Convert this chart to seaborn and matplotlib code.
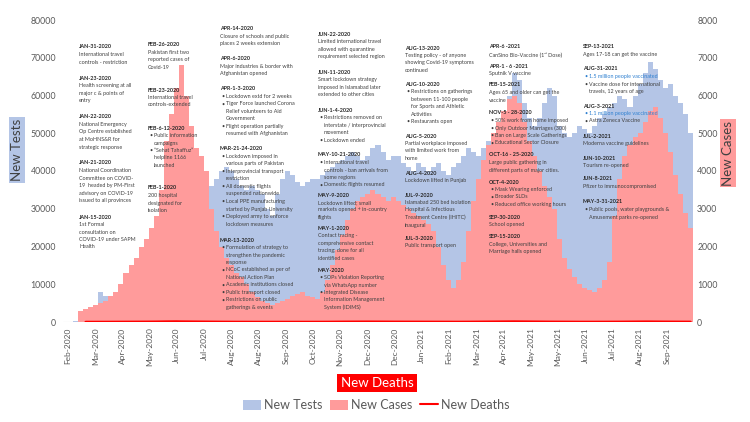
import matplotlib
matplotlib.use("Agg")
import numpy as np
import pandas as pd
import seaborn as sns
import matplotlib.pyplot as plt
from matplotlib.patches import Patch
from matplotlib.lines import Line2D

# ---------------- data (5-day bins) ----------------
new_tests = [
    0, 0, 200, 500, 1000, 3000, 4000, 8000, 7000, 6500,
    8000, 9000, 11000, 12000, 13000, 14000, 15000, 17000, 20000, 22000,
    25000, 27000, 28000, 29000, 28000, 27000, 26000, 30000, 33000, 36000,
    38000, 40000, 41000, 40000, 38000, 36000, 35000, 36000, 35000, 34000,
    30000, 28000, 34000, 38000, 40000, 39000, 37000, 36000, 37000, 38000,
    38000, 39000, 40000, 41000, 42000, 43000, 44000, 45000, 44000, 43000,
    44000, 46000, 47000, 45000, 43000, 44000, 44000, 42000, 41000, 40000,
    42000, 41000, 40000, 41000, 42000, 40000, 39000, 41000, 42000, 44000,
    46000, 45000, 44000, 46000, 48000, 50000, 53000, 56000, 60000, 66000,
    64000, 58000, 54000, 52000, 54000, 58000, 62000, 60000, 52000, 50000,
    49000, 50000, 52000, 51000, 50000, 52000, 54000, 55000, 57000, 58000,
    60000, 59000, 57000, 60000, 63000, 66000, 69000, 67000, 64000, 62000,
    63000, 60000, 58000, 55000, 50000,
]
new_cases = [
    0, 0, 0, 300, 350, 400, 450, 500, 550, 700,
    800, 1000, 1300, 1500, 1700, 2000, 2200, 2500, 2800, 3500,
    4800, 5500, 6200, 6800, 6000, 5200, 4600, 4400, 4000, 3000,
    2400, 2000, 1700, 1500, 1300, 1200, 1000, 800, 650, 550,
    500, 450, 500, 550, 600, 700, 750, 800, 700, 650,
    600, 800, 1100, 1500, 1900, 2300, 2700, 3000, 3200, 3300,
    3400, 3500, 3400, 3300, 3200, 3300, 3200, 3100, 3000, 2900,
    2800, 2700, 2600, 2400, 2000, 1500, 1100, 900, 1100, 1600,
    2400, 3200, 3800, 4300, 4700, 5000, 5300, 5600, 5900, 6000,
    5800, 5300, 4800, 4400, 4000, 3600, 3300, 3000, 2200, 1700,
    1400, 1200, 1000, 900, 850, 800, 900, 1100, 1600, 2800,
    3800, 4400, 4700, 4900, 5000, 5300, 5600, 5700, 5400, 5000,
    4500, 3900, 3400, 2900, 2500,
]
new_deaths = [
    np.nan, np.nan, np.nan, np.nan, 2, 3, 5, 8, 10, 15,
    20, 25, 30, 35, 40, 45, 50, 60, 70, 90,
    110, 120, 130, 110, 100, 90, 80, 70, 60, 50,
    40, 30, 25, 20, 15, 12, 10, 8, 7, 6,
    6, 6, 6, 7, 8, 8, 8, 9, 10, 10,
    12, 15, 20, 30, 40, 50, 55, 60, 65, 70,
    75, 70, 65, 60, 55, 50, 50, 45, 45, 40,
    40, 35, 35, 30, 30, 25, 25, 20, 20, 25,
    30, 40, 50, 60, 70, 80, 90, 100, 110, 120,
    110, 100, 90, 80, 70, 60, 50, 45, 40, 35,
    30, 25, 20, 20, 20, 20, 25, 25, 30, 35,
    40, 50, 60, 70, 80, 90, 90, 80, 70, 60,
    55, 50, 45, 40, 35,
]
month_labels = ['Feb-2020', 'Mar-2020', 'Apr-2020', 'May-2020', 'Jun-2020',
                'Jul-2020', 'Aug-2020', 'Aug-2020', 'Sep-2020', 'Oct-2020',
                'Nov-2020', 'Dec-2020', 'Dec-2020', 'Jan-2021', 'Feb-2021',
                'Mar-2021', 'Apr-2021', 'May-2021', 'May-2021', 'Jun-2021',
                'Jul-2021', 'Aug-2021', 'Sep-2021']
test_ticks = list(range(0, 80001, 10000))
case_ticks = list(range(0, 8001, 1000))

# annotation blocks: (x px, y px, heading, lines)  "* " bullet, "*b" blue bullet, "  " continuation
events = [
    (79, 47, "JAN-31-2020", ["International travel", "controls - restriction"]),
    (79, 78, "JAN-23-2020", ["Health screening at all", "major c & points of", "entry"]),
    (79, 117, "JAN-22-2020", ["National Emergency", "Op Centre established", "at MoHNS&R for", "strategic response"]),
    (79, 163, "JAN-21-2020", ["National Coordination", "Committee on COVID-", "19  headed by PM-First", "advisory on COVID-19", "issued to all provinces"]),
    (79, 217, "JAN-15-2020", ["1st Formal", "consultation on", "COVID-19 under SAPM", "Health"]),
    (148, 45, "FEB-26-2020", ["Pakistan first two", "reported cases of", "Covid-19"]),
    (148, 90, "FEB-23-2020", ["International travel", "controls-extended"]),
    (148, 128, "FEB-6-12-2020", ["* Public information", "  campaigns", "* \u201cSehat Tahaffuz\u201d", "  helpline 1166", "  launched"]),
    (148, 188, "FEB-1-2020", ["200 hospital", "designated for", "isolation"]),
    (220, 29, "APR-14-2020", ["Closure of schools and public", "places 2 weeks extension"]),
    (220, 59, "APR-6-2020", ["Major industries & border with", "Afghanistan opened"]),
    (220, 89, "APR-1-3-2020", ["* Lockdown extd for 2 weeks", "* Tiger Force launched Corona", "  Relief volunteers to Aid", "  Government", "* Flight operation partially", "  resumed with Afghanistan"]),
    (220, 149, "MAR-21-24-2020", ["* Lockdown imposed in", "  various parts of Pakistan", "* Interprovincial transport", "  restriction", "* All domestic flights", "  suspended nationwide", "* Local PPE manufacturing", "  started by Punjab University", "* Deployed army to enforce", "  lockdown measures"]),
    (220, 240, "MAR-13-2020", ["* Formulation of strategy to", "  strengthen the pandemic", "  response", "* NCoC established as per of", "  National Action Plan", "* Academic institutions closed", "* Public transport closed", "* Restrictions on public", "  gatherings & events"]),
    (318, 34, "JUN-22-2020", ["Limited international travel", "allowed with quarantine", "requirement selected region"]),
    (318, 72, "JUN-11-2020", ["Smart lockdown strategy", "imposed in Islamabad later", "extended to other cities"]),
    (318, 110, "JUN-1-4-2020", ["* Restrictions removed on", "  interstate / interprovincial", "  movement", "* Lockdown ended"]),
    (318, 155, "MAY-10-21-2020", ["* International travel", "  controls - ban arrivals from", "  some regions", "* Domestic flights resumed"]),
    (318, 195, "MAY-9-2020", ["Lockdown lifted; small", "markets opened + in-country", "flights"]),
    (318, 228, "MAY-1-2020", ["Contact tracing -", "comprehensive contact", "tracing; done for all", "identified cases"]),
    (318, 270, "MAY-2020", ["* SOPs Violation Reporting", "  via WhatsApp number", "* Integrated Disease", "  Information Management", "  System (IDIMS)"]),
    (405, 48, "AUG-13-2020", ["Testing policy - of anyone", "showing Covid-19 symptoms", "continued"]),
    (405, 84, "AUG-10-2020", ["* Restrictions on gatherings", "  between 11-100 people", "  for Sports and Athletic", "  Activities", "* Restaurants open"]),
    (405, 136, "AUG-5-2020", ["Partial workplace imposed", "with limited work from", "home"]),
    (405, 173, "AUG-4-2020", ["Lockdown lifted in Punjab"]),
    (405, 195, "JUL-9-2020", ["Islamabad 250 bed isolation", "Hospital & Infectious", "Treatment Centre (IHITC)", "inaugural"]),
    (405, 238, "JUL-3-2020", ["Public transport open"]),
    (489, 47, "APR-6 -2021", ["CanSino Bio-Vaccine (1\u02e2\u1d57 Dose)"]),
    (489, 66, "APR-1 - 6 -2021", ["Sputnik V vaccine"]),
    (489, 85, "FEB-15-2021", ["Ages 65 and older can get the", "vaccine"]),
    (489, 113, "NOV-5 - 28-2020", ["* 50% work from home imposed", "* Only Outdoor Marriages (300)", "* Ban on Large Scale Gatherings", "* Educational Sector Closure"]),
    (489, 155, "OCT-16 - 25-2020", ["Large public gathering in", "different parts of major cities."]),
    (489, 182, "OCT-4-2020", ["* Mask Wearing enforced", "* Broader SLDs", "* Reduced office working hours"]),
    (489, 217, "SEP-30-2020", ["School opened"]),
    (489, 237, "SEP-15-2020", ["College, Universities and", "Marriage halls opened"]),
    (583, 47, "SEP-13-2021", ["Ages 17-18 can get the vaccine"]),
    (583, 69, "AUG-31-2021", ["*b1.5 million people vaccinated", "* Vaccine dose for international", "  travels, 12 years of age"]),
    (583, 106, "AUG-3-2021", ["*b1.1 million people vaccinated", "* Astra Zeneca Vaccine"]),
    (583, 136, "JUL-2-2021", ["Moderna vaccine guidelines"]),
    (583, 158, "JUN-10-2021", ["Tourism re-opened"]),
    (583, 179, "JUN-8-2021", ["Pfizer to immunocompromised"]),
    (583, 202, "MAY-3-31-2021", ["* Public pools, water playgrounds &", "  Amusement parks re-opened"]),
]

# ---------------- styling ----------------
TEST_C = '#b4c5e6'
CASE_C = '#ff9b9b'
DEATH_C = '#ff0000'
TICK_C = '#595959'
HEAD_C = '#262626'
BODY_C = '#404040'
BLUE_C = '#2f80d0'

sns.set_theme(style='white')
plt.rcParams['font.family'] = ['Lato', 'DejaVu Sans']

W, H = 750, 422
fig = plt.figure(figsize=(7.5, 4.22), dpi=100)
L, R, T, B = 63, 693, 20, 322
ax = fig.add_axes([L / W, 1 - B / H, (R - L) / W, (B - T) / H])
ax2 = ax.twinx()
ax3 = ax.twinx()

STEP = 5
n = len(new_cases)
edges = np.arange(n + 1) * STEP
ax.fill_between(edges, np.append(new_tests, new_tests[-1]), step='post', color=TEST_C, lw=0)
ax2.fill_between(edges, np.append(new_cases, new_cases[-1]), step='post', color=CASE_C, lw=0)
df = pd.DataFrame({'x': np.arange(n) * STEP + STEP / 2, 'deaths': new_deaths})
sns.lineplot(data=df, x='x', y='deaths', ax=ax3, color=DEATH_C, lw=1.8)

for a in (ax, ax2, ax3):
    a.set_xlim(0, n * STEP)
    for s in a.spines.values():
        s.set_visible(False)
ax.set_ylim(0, 80000)
ax3.set_ylim(0, 80000)
ax2.set_ylim(0, 8000)
ax3.set_yticks([])
ax3.set_ylabel('')
ax3.set_xlabel('')

ax.set_yticks(test_ticks)
ax.set_yticklabels([str(v) for v in test_ticks])
ax2.set_yticks(case_ticks)
ax2.set_yticklabels([str(v) for v in case_ticks])
ax.tick_params(axis='y', length=0, pad=5, labelsize=6.3, labelcolor=TICK_C)
ax2.tick_params(axis='y', length=0, pad=3, labelsize=6.3, labelcolor=TICK_C)

tick_pos = [5 + 27 * k for k in range(len(month_labels))]
ax.set_xticks(tick_pos)
ax.set_xticklabels(month_labels, rotation=90, fontsize=6, color=TICK_C)
ax.tick_params(axis='x', length=0, pad=4)
ax.set_xlabel('')
ax.set_ylabel('')
ax2.set_ylabel('')
ax.axhline(0, color='#d9d9d9', lw=0.8, zorder=0)
ax.grid(False); ax2.grid(False); ax3.grid(False)

# side / axis titles
fig.text(17 / W, 1 - 150 / H, 'New Tests', rotation=90, ha='center', va='center',
         fontsize=9.5, color=BODY_C,
         bbox=dict(boxstyle='square,pad=0.12', fc=TEST_C, ec='none'))
fig.text(728 / W, 1 - 153 / H, 'New Cases', rotation=90, ha='center', va='center',
         fontsize=9.5, color=BODY_C,
         bbox=dict(boxstyle='square,pad=0.12', fc=CASE_C, ec='none'))
fig.text(377 / W, 1 - 383 / H, 'New Deaths', ha='center', va='center',
         fontsize=9.5, color='white',
         bbox=dict(boxstyle='square,pad=0.25', fc=DEATH_C, ec='none'))

handles = [Patch(fc=TEST_C, ec='none'), Patch(fc=CASE_C, ec='none'),
           Line2D([], [], color=DEATH_C, lw=1.5)]
fig.legend(handles, ['New Tests', 'New Cases', 'New Deaths'], loc='center',
           bbox_to_anchor=(376 / W, 1 - 405 / H), ncol=3, frameon=False,
           fontsize=9, labelcolor=TICK_C, handlelength=1.5, handleheight=0.9,
           handletextpad=0.2, columnspacing=0.6)

# event annotations
FS = 3.9
LS = 7.5


def put(x, y, s, **kw):
    fig.text(x / W, 1 - y / H, s, va='center', ha='left', fontsize=FS, **kw)


for (x, y, head, lines) in events:
    put(x, y, head, weight='bold', color=HEAD_C)
    for k, line in enumerate(lines, 1):
        yy = y + k * LS
        if line.startswith('*'):
            c = BLUE_C if line.startswith('*b') else BODY_C
            put(x + 1, yy, '\u2022', color=c)
            put(x + 6, yy, line[2:], color=c)
        elif line.startswith('  '):
            put(x + 6, yy, line[2:], color=BODY_C)
        else:
            put(x, yy, line, color=BODY_C)

fig.savefig('out.png', dpi=100)
